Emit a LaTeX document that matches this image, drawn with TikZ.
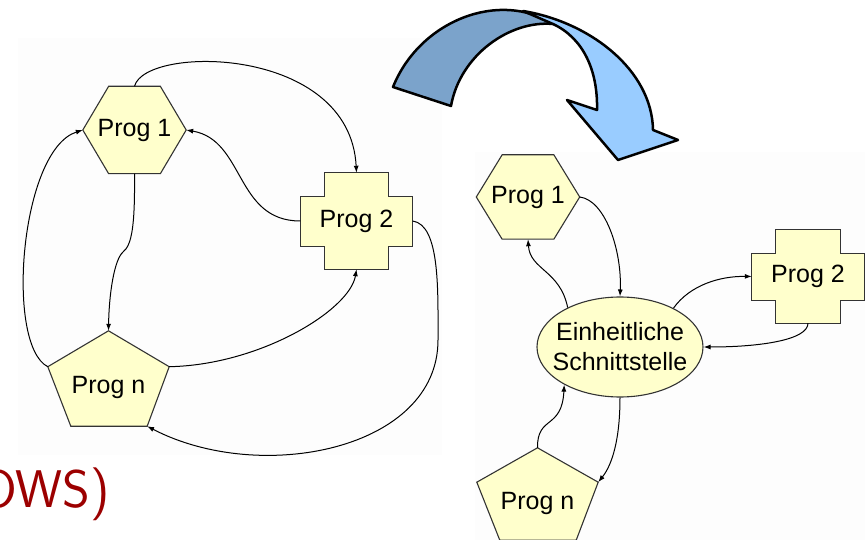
\documentclass[tikz,border=0pt]{standalone}
\usepackage{fontspec}
\setmainfont{Liberation Sans}
\usetikzlibrary{shapes.geometric,arrows.meta,calc,backgrounds}
\definecolor{ProgFill}{HTML}{FFFFCC}
\definecolor{ProgLine}{HTML}{333333}
\definecolor{TurnDark}{HTML}{7BA3CB}
\definecolor{TurnLight}{HTML}{99CCFF}
\definecolor{SlideRed}{HTML}{9C0000}
\definecolor{PanelGray}{HTML}{FDFDFD}
\tikzset{
  progtext/.style={font=\fontsize{25pt}{30pt}\selectfont, inner sep=0pt},
  hexbox/.style={progtext, minimum width=103pt, minimum height=#1},
  hexbox/.default=84pt,
  crossbox/.style={progtext, minimum width=112pt, minimum height=#1},
  crossbox/.default=93pt,
  pentbox/.style={progtext, minimum width=121pt, minimum height=#1},
  pentbox/.default=92pt,
  progshape/.style={fill=ProgFill, draw=ProgLine, line width=1.1pt},
  link/.style={line width=1pt, -{Latex[length=7pt,width=5pt]}},
}

\begin{document}
\begin{tikzpicture}[x=1pt,y=-1pt]
        \useasboundingbox (0,0) rectangle (865,540);
        \clip (0,0) rectangle (865,540);

        % left: every program with every other
        \node[hexbox=87pt] (p1L) at (134.5,130) {Prog 1};
        \node[crossbox=96pt] (p2L) at (356.5,221) {Prog 2};
        \node[pentbox=95pt, label={[progtext, yshift=-9pt]center:Prog n}] (pnL) at (108.5,378.5) {};

        % right: all through one interface
        \node[hexbox] (p1R) at (528,197) {Prog 1};
        \node[crossbox] (p2R) at (808,276.5) {Prog 2};
        \node[pentbox, label={[progtext, yshift=-9pt]center:Prog n}] (pnR) at (537.5,494) {};
        \node[progshape, ellipse, progtext, inner xsep=-9pt, minimum width=166pt, minimum height=100pt, align=center] (ifc) at (620,347) {Einheitliche\\Schnittstelle};

        \begin{scope}[on background layer]
          \fill[PanelGray] (18,38) rectangle (442,455);
          \fill[PanelGray] (475,152) rectangle (865,540);
          \foreach \n in {p1L,p1R} {
            \draw[progshape] (\n.west) -- ($(\n.north west)!0.25!(\n.north east)$) -- ($(\n.north west)!0.75!(\n.north east)$)
              -- (\n.east) -- ($(\n.south west)!0.75!(\n.south east)$) -- ($(\n.south west)!0.25!(\n.south east)$) -- cycle;
          }
          \foreach \n in {p2L,p2R} {
            \draw[progshape] ($(\n.north west)+(24,0)$) -- ($(\n.north east)+(-24,0)$) -- ($(\n.north east)+(-24,24)$)
              -- ($(\n.north east)+(0,24)$) -- ($(\n.south east)+(0,-23)$) -- ($(\n.south east)+(-24,-23)$)
              -- ($(\n.south east)+(-24,0)$) -- ($(\n.south west)+(24,0)$) -- ($(\n.south west)+(24,-23)$)
              -- ($(\n.south west)+(0,-23)$) -- ($(\n.north west)+(0,24)$) -- ($(\n.north west)+(24,24)$) -- cycle;
          }
          \foreach \n in {pnL,pnR} {
            \draw[progshape] (\n.north) -- (\n.11) -- ($(\n.south east)+(-22,0)$) -- ($(\n.south west)+(23,0)$) -- (\n.169) -- cycle;
          }
        \end{scope}

        \draw[link] (p1L.north) .. controls (145,45) and (350,45) .. (p2L.north);
        \draw[link] (p2L.west) .. controls (235,221) and (245,140) .. (p1L.east);
        \draw[link] (p1L.south) .. controls (135,225) and (132,245) .. (123,252) .. controls (114,260) and (109,295) .. (pnL.north);
        \draw[link] (pnL.169) .. controls (5,345) and (20,150) .. (p1L.west);
        \draw[link] (pnL.11) .. controls (260,365) and (350,310) .. (p2L.south);
        \draw[link] (p2L.east) .. controls (440,225) and (438,290) .. (438,340) .. controls (438,450) and (260,485) .. (pnL.-51);

        \draw[link] (p1R.east) .. controls (605,200) and (622,250) .. (ifc.north);
        \draw[link] (ifc.143) .. controls (560,270) and (530,270) .. (p1R.south);
        \draw[link] (ifc.36) .. controls (690,285) and (720,276) .. (p2R.west);
        \draw[link] (p2R.south) .. controls (808,340) and (760,347) .. (ifc.east);
        \draw[link] (pnR.north) .. controls (537,415) and (562,430) .. (ifc.214);
        \draw[link] (ifc.south) .. controls (620,440) and (612,465) .. (pnR.11);

        % the turn-over arrow
        \draw[fill=TurnDark, line width=2.5pt, line join=round] (393,87) .. controls (420,20) and (500,-10) .. (553,24)
          .. controls (510,20) and (460,55) .. (451,106) -- cycle;
        \draw[fill=TurnLight, line width=2.5pt, line join=round] (523,11) .. controls (590,22) and (652,70) .. (653,130)
          -- (678,140) -- (618,160) -- (567,100) -- (597,110) .. controls (598,70) and (583,38) .. (553,24) -- cycle;

        \node[font=\sffamily\fontsize{53pt}{60pt}\selectfont, text=SlideRed, anchor=base east, inner sep=0pt] (tail) at (110,507) {OWS)};
      \end{tikzpicture}
\end{document}
